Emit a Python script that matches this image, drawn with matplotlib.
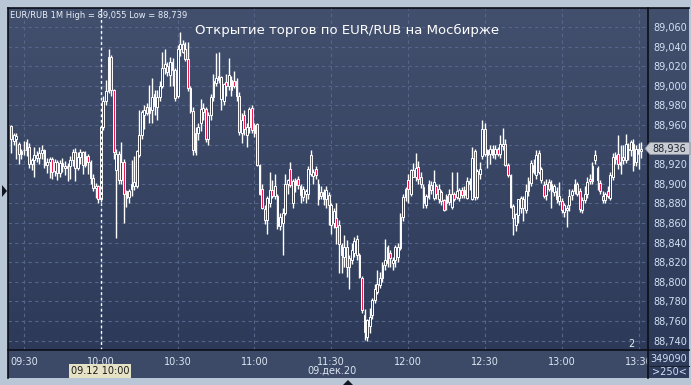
import numpy as np
import matplotlib
matplotlib.use('Agg')
import matplotlib.pyplot as plt
from matplotlib.patches import Polygon, Rectangle
from matplotlib.lines import Line2D
from matplotlib.transforms import Bbox, TransformedBbox

# EUR/RUB 1-minute candles, 09:25 .. 13:31, 09.12.2020
# values are thousandths of a rouble above BASE
BASE = 88.700
opens = [259, 244, 246, 241, 230, 234, 243, 238, 220, 224,
         229, 226, 231, 234, 219, 222, 225, 213, 222, 211,
         221, 218, 216, 218, 224, 232, 216, 227, 232, 219,
         228, 222, 206, 196, 198, 184, 258, 285, 295, 329,
         296, 214, 230, 204, 222, 186, 187, 195, 198, 198,
         229, 250, 270, 278, 272, 275, 292, 278, 289, 300,
         318, 320, 311, 324, 316, 290, 338, 343, 338, 327,
         298, 274, 232, 252, 262, 273, 276, 246, 270, 289,
         303, 306, 287, 285, 304, 300, 296, 305, 305, 290,
         252, 270, 250, 258, 277, 252, 261, 219, 195, 174,
         163, 180, 194, 188, 188, 157, 160, 170, 200, 215,
         180, 199, 205, 189, 187, 190, 190, 229, 208, 215,
         185, 192, 185, 185, 189, 158, 160, 165, 158, 138,
         125, 136, 124, 122, 129, 127, 127, 104, 66, 44,
         55, 66, 81, 90, 97, 104, 117, 119, 129, 119,
         122, 125, 134, 166, 187, 204, 190, 214, 207, 217,
         207, 197, 178, 187, 199, 186, 198, 185, 192, 183,
         180, 190, 176, 190, 187, 186, 194, 189, 186, 200,
         185, 233, 187, 210, 228, 256, 229, 230, 236, 230,
         236, 230, 239, 241, 219, 209, 177, 158, 168, 175,
         185, 173, 193, 201, 219, 209, 231, 204, 199, 189,
         202, 200, 192, 193, 182, 182, 171, 175, 178, 189,
         193, 200, 193, 173, 183, 190, 205, 203, 224, 216,
         201, 188, 183, 193, 186, 207, 225, 230, 219, 227,
         224, 234, 235, 241, 222, 230, 233]
highs = [260, 252, 252, 243, 236, 244, 246, 242, 226, 238,
         233, 238, 240, 236, 226, 227, 227, 225, 224, 224,
         226, 223, 221, 228, 236, 237, 232, 236, 233, 233,
         230, 224, 210, 201, 199, 259, 290, 306, 338, 331,
         297, 236, 233, 243, 225, 194, 195, 224, 228, 235,
         275, 275, 280, 282, 301, 308, 296, 296, 305, 334,
         338, 324, 329, 328, 318, 342, 355, 347, 345, 345,
         300, 278, 258, 262, 287, 282, 278, 273, 292, 312,
         333, 335, 310, 303, 312, 328, 310, 315, 308, 294,
         272, 275, 262, 278, 280, 262, 262, 220, 200, 178,
         188, 212, 204, 210, 190, 170, 175, 210, 205, 222,
         205, 206, 208, 200, 198, 195, 218, 234, 215, 218,
         205, 198, 195, 198, 192, 180, 175, 180, 163, 140,
         148, 143, 127, 140, 146, 148, 129, 106, 72, 62,
         73, 83, 98, 112, 110, 120, 144, 138, 132, 125,
         138, 140, 170, 190, 197, 210, 215, 221, 231, 223,
         212, 200, 190, 204, 203, 214, 200, 200, 194, 185,
         190, 195, 212, 192, 212, 196, 197, 198, 207, 206,
         238, 236, 215, 222, 265, 262, 236, 240, 240, 240,
         238, 250, 257, 246, 221, 210, 179, 170, 185, 188,
         188, 200, 207, 224, 225, 234, 235, 217, 203, 205,
         205, 204, 200, 197, 202, 186, 180, 178, 195, 195,
         205, 202, 196, 187, 198, 207, 210, 222, 234, 218,
         204, 193, 192, 198, 212, 231, 232, 250, 240, 240,
         251, 242, 245, 246, 240, 242, 243]
lows = [231, 240, 225, 220, 225, 229, 228, 216, 214, 207,
        222, 220, 225, 216, 211, 206, 205, 208, 204, 207,
        212, 209, 203, 205, 218, 203, 214, 220, 210, 217,
        210, 200, 193, 186, 180, 181, 255, 280, 293, 290,
        225, 145, 200, 200, 160, 176, 180, 188, 194, 196,
        227, 246, 256, 270, 262, 262, 270, 265, 285, 298,
        312, 310, 300, 300, 285, 288, 330, 333, 325, 295,
        272, 229, 229, 245, 254, 265, 243, 240, 265, 285,
        300, 303, 275, 280, 290, 296, 290, 298, 285, 250,
        242, 250, 238, 252, 252, 248, 218, 189, 174, 159,
        149, 176, 186, 185, 154, 153, 127, 168, 190, 197,
        175, 192, 195, 180, 182, 180, 185, 208, 200, 205,
        178, 185, 178, 175, 158, 149, 155, 139, 109, 109,
        115, 105, 93, 118, 125, 122, 104, 68, 41, 40,
        48, 62, 78, 88, 94, 100, 112, 115, 115, 112,
        115, 120, 132, 162, 182, 180, 188, 207, 203, 200,
        196, 175, 175, 185, 190, 183, 185, 180, 178, 172,
        173, 178, 174, 182, 184, 182, 186, 186, 184, 194,
        183, 183, 185, 205, 225, 228, 216, 220, 226, 225,
        228, 226, 235, 218, 207, 175, 148, 152, 160, 170,
        162, 170, 188, 198, 210, 205, 210, 201, 186, 183,
        193, 175, 188, 180, 178, 170, 166, 156, 172, 183,
        190, 188, 171, 170, 180, 186, 200, 200, 220, 194,
        190, 180, 180, 186, 183, 204, 220, 215, 210, 220,
        221, 224, 228, 213, 218, 215, 226]
closes = [246, 250, 249, 230, 233, 235, 235, 220, 224, 229,
          226, 231, 234, 219, 222, 225, 212, 222, 211, 221,
          218, 216, 218, 224, 232, 216, 227, 232, 219, 228,
          222, 206, 196, 198, 184, 258, 285, 295, 329, 296,
          232, 230, 204, 222, 190, 193, 193, 200, 202, 233,
          250, 273, 275, 272, 278, 289, 279, 289, 300, 318,
          322, 314, 324, 316, 288, 338, 343, 335, 327, 298,
          274, 235, 252, 258, 276, 277, 246, 270, 289, 305,
          308, 310, 309, 302, 300, 311, 306, 300, 290, 253,
          265, 256, 258, 276, 255, 260, 219, 190, 175, 163,
          186, 194, 188, 198, 157, 166, 170, 200, 204, 199,
          203, 204, 199, 198, 195, 193, 215, 210, 212, 209,
          200, 188, 192, 194, 178, 178, 172, 156, 139, 127,
          136, 115, 115, 132, 142, 144, 105, 71, 49, 61,
          64, 81, 93, 98, 104, 117, 122, 136, 124, 122,
          135, 136, 166, 187, 195, 195, 214, 207, 216, 205,
          200, 180, 188, 200, 194, 202, 190, 195, 182, 173,
          188, 181, 190, 185, 193, 194, 189, 194, 203, 203,
          226, 187, 213, 215, 256, 230, 235, 236, 229, 236,
          230, 241, 241, 219, 209, 176, 165, 169, 184, 186,
          175, 193, 203, 221, 212, 229, 212, 215, 188, 200,
          195, 193, 198, 184, 188, 173, 178, 173, 188, 193,
          200, 190, 174, 183, 190, 202, 203, 218, 229, 204,
          193, 183, 190, 188, 209, 227, 229, 220, 222, 224,
          241, 236, 243, 219, 236, 236, 236]

time_labels = ['09:30', '10:00', '10:30', '11:00', '11:30', '12:00', '12:30', '13:00', '13:30']
time_minutes = [5, 35, 65, 95, 125, 155, 185, 215, 245]   # minutes after 09:25
price_ticks = [88.740, 88.760, 88.780, 88.800, 88.820, 88.840, 88.860, 88.880, 88.900,
               88.920, 88.940, 88.960, 88.980, 89.000, 89.020, 89.040, 89.060]
last_price = 88.936

W, H = 691, 385
YLO, YHI = 88.7304, 89.0794


def box(x0, y0, x1, y1):
    # pixel box (top-left origin) -> figure fraction rect
    return [x0 / W, 1 - y1 / H, (x1 - x0) / W, (y1 - y0) / H]


def fx(x):
    return x / W


def fy(y):
    return 1 - y / H


o = BASE + np.array(opens) / 1000
h = BASE + np.array(highs) / 1000
l = BASE + np.array(lows) / 1000
c = BASE + np.array(closes) / 1000
x = np.arange(len(o))

fig = plt.figure(figsize=(6.91, 3.85), dpi=100, facecolor='#b9c6d6')

# dark panel with vertical gradient
bg = fig.add_axes(box(8, 8, 689, 378))
bg.axis('off')
grad = np.linspace(0, 1, 256).reshape(-1, 1)
top = np.array([0x42, 0x50, 0x6e]) / 255
bot = np.array([0x2b, 0x38, 0x57]) / 255
img = top + (bot - top) * grad[..., None]
bg.imshow(img, aspect='auto', extent=[0, 1, 0, 1])
bg.set_xlim(0, 1)
bg.set_ylim(0, 1)
fig.patches.append(Rectangle((fx(8), fy(378)), fx(640), 28 / H, transform=fig.transFigure,
                             facecolor='#3c4a67', edgecolor='none', zorder=1))
fig.patches.append(Rectangle((fx(648), fy(378)), fx(41), 28 / H, transform=fig.transFigure,
                             facecolor='#2f3c5b', edgecolor='none', zorder=1))

ax = fig.add_axes(box(8, 8, 648, 350))
ax.set_facecolor('none')
ax.set_zorder(2)
ax.set_xlim(-1.25, 248.7)
ax.set_ylim(YLO, YHI)
for s in ax.spines.values():
    s.set_visible(False)

grid = dict(color='#56668a', lw=0.8, ls=(0, (3, 3)), zorder=1)
for p in price_ticks:
    ax.axhline(p, **grid)
for m in time_minutes:
    ax.axvline(m, **grid)

# candles
up = c >= o
ax.vlines(x, l, h, color='white', lw=1, zorder=3)
body_h = np.maximum(np.abs(c - o), 0.0006)
body_b = np.minimum(o, c)
ax.bar(x[up], body_h[up], bottom=body_b[up], width=0.7, color='#33415f',
       edgecolor='white', linewidth=0.7, zorder=4)
ax.bar(x[~up], body_h[~up], bottom=body_b[~up], width=0.7, color='#ea1c50',
       edgecolor='white', linewidth=0.7, zorder=4)

# cursor line at 10:00
ax.axvline(35, color='white', lw=1, ls=(0, (2, 2)), zorder=5)

ax.yaxis.tick_right()
ax.set_yticks(price_ticks)
# the 88,940 label sits under the last-price marker
ax.set_yticklabels(['' if abs(p - 88.94) < 1e-6 else f'{p:.3f}'.replace('.', ',')
                    for p in price_ticks])
ax.tick_params(axis='y', length=0, pad=4, labelsize=7, labelcolor='#d4e2f5')
ax.set_xticks(time_minutes)
ax.set_xticklabels(time_labels)
ax.tick_params(axis='x', length=0, pad=5, labelsize=7, labelcolor='#dde6f2')
clip = TransformedBbox(Bbox([[0, 0], [648 / W, 1]]), fig.transFigure)
for lbl in ax.get_xticklabels():
    lbl.set_clip_box(clip)
    lbl.set_clip_on(True)

# frame lines
for (xa, ya, xb, yb) in [(648, 8, 648, 378), (8, 350, 689, 350), (8, 8, 8, 378), (8, 8, 689, 8)]:
    fig.lines.append(Line2D([fx(xa), fx(xb)], [fy(ya), fy(yb)], transform=fig.transFigure,
                            color='#0c0f18', lw=1.2, zorder=6))

# texts
fig.text(fx(10), fy(15), 'EUR/RUB 1M High = 89,055 Low = 88,739', fontsize=6,
         color='#e8eef6', va='center', ha='left', zorder=7)
fig.text(fx(347), fy(30), 'Открытие торгов по EUR/RUB на Мосбирже', fontsize=9.5,
         color='white', va='center', ha='center', zorder=7)
fig.text(fx(631), fy(344), '2', fontsize=7, color='#e8eef6', va='center', ha='center', zorder=7)
fig.text(fx(100), fy(371), '09.12 10:00', fontsize=7, color='#1a1a1a', va='center', ha='center',
         zorder=8, bbox=dict(boxstyle='square,pad=0.2', fc='#e6e2c6', ec='none'))
fig.text(fx(332), fy(371), '09.дек.20', fontsize=7, color='#dde6f2', va='center', ha='center', zorder=7)

# last price marker
py = 8 + (YHI - last_price) / (YHI - YLO) * 342
fig.patches.append(Polygon([(fx(645), fy(py)), (fx(650), fy(py - 6)), (fx(690), fy(py - 6)),
                            (fx(690), fy(py + 6)), (fx(650), fy(py + 6))], closed=True,
                           transform=fig.transFigure, facecolor='#c9cdd3', edgecolor='#8a9099',
                           lw=0.6, zorder=8))
fig.text(fx(652), fy(py), f'{last_price:.3f}'.replace('.', ','), fontsize=7, color='#1b2330',
         va='center', ha='left', zorder=9)

# volume box bottom right
fig.text(fx(669), fy(359), '349090', fontsize=7, color='#cfe0f5', va='center', ha='center', zorder=7)
fig.lines.append(Line2D([fx(650), fx(689)], [fy(366), fy(366)], transform=fig.transFigure,
                        color='#1b2130', lw=0.8, zorder=7))
fig.text(fx(669), fy(372), '>250<', fontsize=7, color='#cfe0f5', va='center', ha='center', zorder=7)

# small scroll arrows
fig.patches.append(Polygon([(fx(2), fy(185)), (fx(2), fy(197)), (fx(7), fy(191))], closed=True,
                           transform=fig.transFigure, facecolor='#111722', edgecolor='none', zorder=7))
fig.patches.append(Polygon([(fx(342), fy(386)), (fx(354), fy(386)), (fx(348), fy(380))], closed=True,
                           transform=fig.transFigure, facecolor='#111722', edgecolor='none', zorder=7))

fig.savefig('out.png', dpi=100, facecolor=fig.get_facecolor())
